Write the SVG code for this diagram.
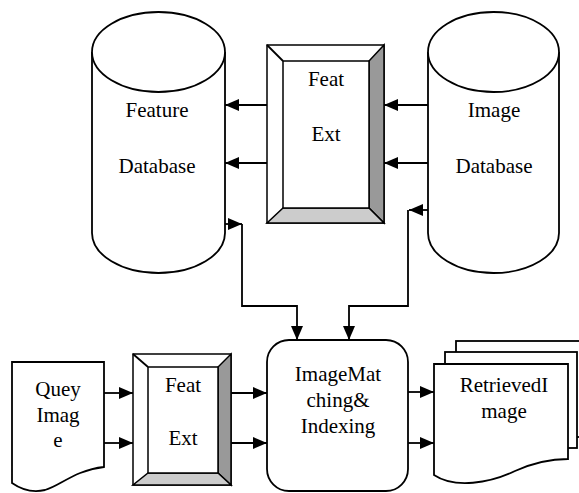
<svg xmlns="http://www.w3.org/2000/svg" width="579" height="493" viewBox="0 0 579 493">
<style>
.s{fill:#fff;stroke:#000;stroke-width:1.8}
.c{fill:none;stroke:#000;stroke-width:1.8}
.t{font-family:"Liberation Serif","Times New Roman",serif;font-size:21px;text-anchor:middle;fill:#000}
.bl{fill:#fff;stroke:#000;stroke-width:1.5}
.dk{fill:#999;stroke:#000;stroke-width:1.5}
.lt{fill:#ccc;stroke:#000;stroke-width:1.5}
</style>
<defs>
<marker id="ah" viewBox="0 0 14 12" refX="14" refY="6" markerWidth="14" markerHeight="12" markerUnits="userSpaceOnUse" orient="auto">
<path d="M0,0 L14,6 L0,12 Z" fill="#000"/>
</marker>
</defs>

<g id="featureDB">
<path class="s" d="M92,52 V233 A66.5,40 0 0 0 225,233 V52"/>
<ellipse class="s" cx="158.5" cy="52" rx="66.5" ry="40"/>
<text class="t" x="157" y="117">Feature</text>
<text class="t" x="157" y="173">Database</text>
</g>

<g id="imageDB">
<path class="s" d="M428,52 V233 A65.5,40 0 0 0 559,233 V52"/>
<ellipse class="s" cx="493.5" cy="52" rx="65.5" ry="40"/>
<text class="t" x="494" y="117">Image</text>
<text class="t" x="494" y="173">Database</text>
</g>

<g id="featExtTop">
<rect class="bl" x="267" y="45" width="117" height="178"/>
<polygon class="dk" points="384,45 384,223 369,208 369,61"/>
<polygon class="lt" points="267,223 384,223 369,208 283,208"/>
<line class="c" x1="267" y1="45" x2="283" y2="61" stroke-width="1.5"/>
<rect class="bl" x="283" y="61" width="86" height="147"/>
<text class="t" x="326" y="86">Feat</text>
<text class="t" x="326" y="141">Ext</text>
</g>

<g id="queryImage">
<path class="s" d="M12,483 V362 H104 V467 C75,470 60,486 45,490 C32,493 22,490 12,483 Z"/>
<text class="t" x="58" y="396">Quey</text>
<text class="t" x="58" y="422">Imag</text>
<text class="t" x="58" y="447">e</text>
</g>

<g id="featExtBottom">
<rect class="bl" x="133" y="354" width="98" height="131"/>
<polygon class="dk" points="231,354 231,485 218,473 218,367"/>
<polygon class="lt" points="133,485 231,485 218,473 148,473"/>
<line class="c" x1="133" y1="354" x2="148" y2="367" stroke-width="1.5"/>
<rect class="bl" x="148" y="367" width="70" height="106"/>
<text class="t" x="183" y="392">Feat</text>
<text class="t" x="183" y="445">Ext</text>
</g>

<g id="matching">
<rect class="s" x="267" y="340" width="141" height="151" rx="22" ry="22"/>
<text class="t" x="338" y="381">ImageMat</text>
<text class="t" x="338" y="407">ching&amp;</text>
<text class="t" x="338" y="433">Indexing</text>
</g>

<g id="retrieved">
<rect class="s" x="456" y="341" width="140" height="96"/>
<rect class="s" x="445" y="352" width="132" height="96"/>
<path class="s" d="M434,475 V364 H568 V459 C550,459 535,462 515,471 C490,483 455,489 434,475 Z"/>
<text class="t" x="504" y="392">RetrievedI</text>
<text class="t" x="504" y="418">mage</text>
</g>

<g id="connectors">
<line class="c" x1="267" y1="105" x2="225" y2="105" marker-end="url(#ah)"/>
<line class="c" x1="267" y1="163" x2="225" y2="163" marker-end="url(#ah)"/>
<line class="c" x1="428" y1="105" x2="384" y2="105" marker-end="url(#ah)"/>
<line class="c" x1="428" y1="163" x2="384" y2="163" marker-end="url(#ah)"/>
<line class="c" x1="225" y1="224" x2="242" y2="224" marker-end="url(#ah)"/>
<polyline class="c" points="242,224 242,306 297,306 297,340" marker-end="url(#ah)"/>
<line class="c" x1="428" y1="210" x2="409" y2="210" marker-end="url(#ah)"/>
<polyline class="c" points="408,210 408,306 349,306 349,340" marker-end="url(#ah)"/>
<line class="c" x1="104" y1="393" x2="133" y2="393" marker-end="url(#ah)"/>
<line class="c" x1="104" y1="443" x2="133" y2="443" marker-end="url(#ah)"/>
<line class="c" x1="231" y1="393" x2="267" y2="393" marker-end="url(#ah)"/>
<line class="c" x1="231" y1="443" x2="267" y2="443" marker-end="url(#ah)"/>
<line class="c" x1="408" y1="392" x2="434" y2="392" marker-end="url(#ah)"/>
<line class="c" x1="408" y1="443" x2="434" y2="443" marker-end="url(#ah)"/>
</g>
</svg>
